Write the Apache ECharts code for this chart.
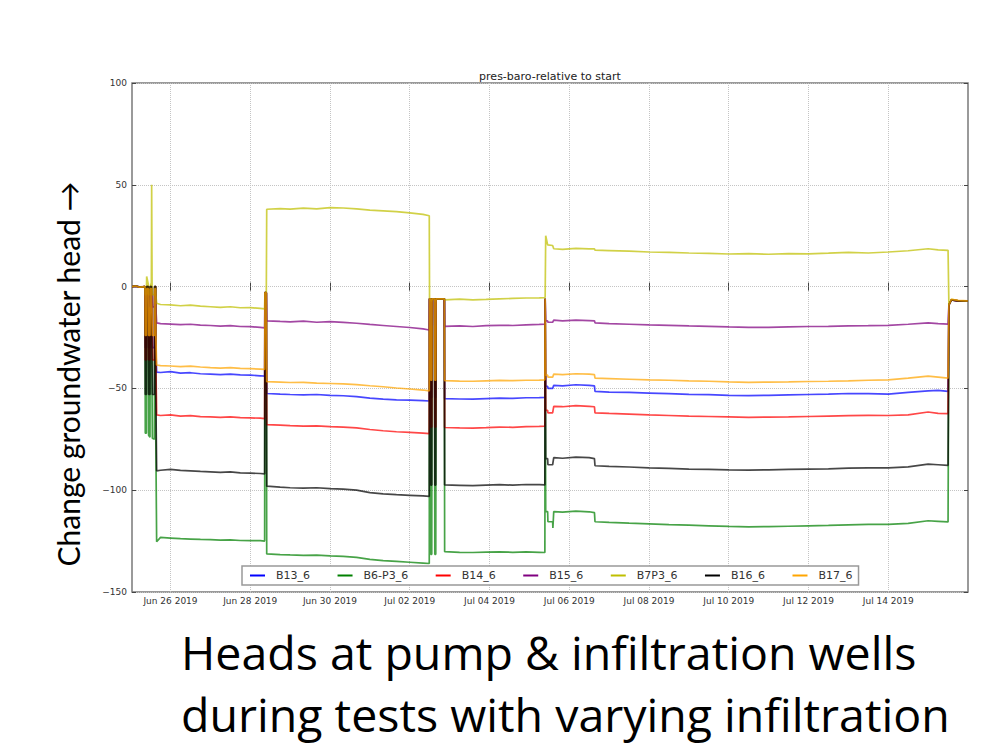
<!DOCTYPE html>
<html>
<head>
<meta charset="utf-8">
<script src="https://cdn.jsdelivr.net/npm/echarts@6/dist/echarts.min.js"></script>
<style>
html,body{margin:0;padding:0;background:#fff;}
#chart{width:998px;height:747px;}
</style>
</head>
<body>
<div id="chart"></div>
<script>
// ---- shared time stamps (local time) ----
const times = [
'2019-06-25 00:50','2019-06-25 03:00','2019-06-25 05:30','2019-06-25 08:40',
'2019-06-25 08:50','2019-06-25 09:30','2019-06-25 09:40','2019-06-25 10:40',
'2019-06-25 10:50','2019-06-25 11:40','2019-06-25 11:50','2019-06-25 12:30',
'2019-06-25 12:40','2019-06-25 12:55','2019-06-25 13:05','2019-06-25 14:20',
'2019-06-25 14:30','2019-06-25 15:00','2019-06-25 15:10','2019-06-25 15:40',
'2019-06-25 18:00','2019-06-26 00:00','2019-06-26 06:00','2019-06-26 12:00',
'2019-06-26 18:00','2019-06-27 00:00','2019-06-27 06:00','2019-06-27 12:00',
'2019-06-27 18:00','2019-06-28 00:00','2019-06-28 06:00','2019-06-28 08:40',
'2019-06-28 08:50','2019-06-28 09:40','2019-06-28 09:55','2019-06-28 18:00',
'2019-06-29 00:00','2019-06-29 08:00','2019-06-29 16:00','2019-06-30 00:00',
'2019-06-30 08:00','2019-06-30 16:00','2019-07-01 00:00','2019-07-01 08:00',
'2019-07-01 16:00','2019-07-02 00:00','2019-07-02 08:00','2019-07-02 11:45',
'2019-07-02 11:55','2019-07-02 12:30','2019-07-02 12:40','2019-07-02 13:15',
'2019-07-02 13:25','2019-07-02 14:55','2019-07-02 15:05','2019-07-02 15:40',
'2019-07-02 15:50','2019-07-02 20:50','2019-07-02 21:00','2019-07-03 06:00',
'2019-07-03 14:00','2019-07-03 22:00','2019-07-04 06:00','2019-07-04 14:00',
'2019-07-04 22:00','2019-07-05 06:00','2019-07-05 09:20','2019-07-05 09:30',
'2019-07-05 09:50','2019-07-05 11:00','2019-07-05 11:10','2019-07-05 14:00',
'2019-07-05 14:10','2019-07-05 14:40','2019-07-05 20:00','2019-07-06 04:00',
'2019-07-06 12:00','2019-07-06 15:10','2019-07-06 15:30','2019-07-07 00:00',
'2019-07-07 12:00','2019-07-08 00:00','2019-07-08 12:00','2019-07-09 00:00',
'2019-07-09 12:00','2019-07-10 00:00','2019-07-10 12:00','2019-07-11 00:00',
'2019-07-11 12:00','2019-07-12 00:00','2019-07-12 12:00','2019-07-13 00:00',
'2019-07-13 12:00','2019-07-14 00:00','2019-07-14 12:00','2019-07-15 00:00',
'2019-07-15 06:00','2019-07-15 12:00','2019-07-15 12:30','2019-07-15 14:00',
'2019-07-15 18:00','2019-07-15 23:50'
];

const seriesNames = ['B13_6','B6-P3_6','B14_6','B15_6','B7P3_6','B16_6','B17_6'];

const B13_6 = [
0,0.2,-0.2,0, -30,-30,0,0, -30,-30,0,0, 0,0,-30,-30, 0,0,-30,-42,
-42.2,-41.8,-42.5,-42.3, -42.8,-43,-43.2,-43, -43.4,-43.5,-43.8,-44,
-3,-3,-52.5,-52.8, -53,-53.2,-53,-53.4, -53.6,-54,-54.8,-55.3, -55.6,-55.8,-56,-56.2,
-6,-6,-54.5,-54.5, -6,-6,-54.5,-54.5, -6,-6,-55,-55.2, -55.3,-55,-54.8,-54.9,
-54.6,-54.5,-54.4,-6, -49,-49,-50,-50, -50,-48.5,-48.8,-48.2, -48.5,-48.8,-51.5,-51.8,
-52,-52.3,-52.6,-52.9, -53.1,-53.4,-53.5,-53.4, -53.2,-53,-52.8,-52.5,
-52.6,-52.8,-52,-51.2, -51,-51.5,-9,-6.5, -7,-7
];
const B6_P3_6 = [
0,0.2,-0.2,0, -72,-72,0,0, -73,-74,0,0, 0,0,-74.5,-75, 0,0,-75,-125.3,
-123.2,-123.5,-123.8,-124, -124.2,-124.3,-124.5,-124.4, -124.7,-124.8,-124.8,-125,
-3,-3,-131.3,-131.6, -131.8,-132,-131.9,-132.3, -132.5,-133,-134,-134.6, -135,-135.4,-135.8,-136,
-6,-6,-131.5,-131.5, -6,-6,-131.5,-131.5, -6,-6,-130.2,-130.5, -130.6,-130.4,-130.3,-130.5,
-130.3,-130.5,-130.6,-6, -110.5,-110.5,-115.5,-115.5, -118.6,-110.5,-110.8,-110.3, -110.6,-111,-115.5,-115.8,
-116.2,-116.5,-116.9,-117.2, -117.5,-117.8,-118,-117.9, -117.7,-117.5,-117.3,-117,
-116.8,-116.8,-116.3,-115, -115.3,-115.6,-9,-6.5, -7,-7
];
const B14_6 = [
0,0.2,-0.2,0, -36,-36,0,0, -36,-36,0,0, 0,0,-36,-36, 0,0,-36,-63,
-63.3,-63,-63.6,-63.4, -63.9,-64,-64.2,-64, -64.4,-64.5,-64.6,-64.8,
-3,-3,-67.8,-68, -68.3,-68.5,-68.4,-68.8, -69,-69.4,-70.2,-70.8, -71.3,-71.6,-72,-72.2,
-6,-6,-69,-69, -6,-6,-69,-69, -6,-6,-69.2,-69.4, -69.5,-69.3,-69,-69.1,
-68.8,-68.7,-68.6,-6, -60.8,-60.8,-62,-62, -62,-58.8,-59,-58.5, -58.8,-59,-62,-62.3,
-62.6,-63,-63.3,-63.6, -63.8,-64,-64.2,-64.1, -64,-63.8,-63.6,-63.4,
-63.2,-63.3,-63,-61.6, -62.3,-62.4,-9,-6.5, -7,-7
];
const B15_6 = [
0,0.2,-0.1,0, -10,-10,0,0, -10,-10,0,0, 0,0,-10,-10, 0,0,-10,-17.8,
-18.2,-18.4,-18.7,-18.5, -18.9,-19.1,-19.4,-19.2, -19.6,-19.7,-20,-20.3,
-3,-3,-16.8,-17.1, -17.3,-17,-17.5,-17.2, -17.6,-18,-18.6,-19.1, -19.6,-20.1,-20.8,-21.3,
-6,-6,-19,-19, -6,-6,-19,-19, -6,-6,-19.5,-19.3, -19.6,-19.2,-19,-19.1,
-18.8,-18.6,-18.5,-6, -16.8,-16.8,-17.5,-17.5, -17.5,-16.5,-16.8,-16.5, -16.7,-16.8,-17.8,-18.2,
-18.5,-18.8,-19,-19.3, -19.5,-19.8,-20,-20, -19.8,-19.6,-19.5,-19.3,
-19.2,-19,-18.5,-17.8, -18.2,-18.4,-9,-6.5, -7,-7
];
const B7P3_6 = [
0,0.3,-0.2,0, -4,-4,5,1, -4,-4,0,2, 50,0,-4,-4, 0,0,-4,-8.2,
-8.8,-9,-9.4,-9.1, -9.6,-9.9,-10.2,-9.9, -10.4,-10.3,-10.7,-10.9,
-3,-3,38,38.3, 38.1,38.5,38.2,38.8, 38.6,38.2,37.6,37.2, 36.8,36.2,35.5,34.8,
-6,-6,-7,-7, -6,-6,-7,-7, -6,-6,-6.5,-6.2, -6.5,-6.3,-6,-5.8,
-5.6,-5.5,-5.4,-5, 25,20.5,20.5,20.2, 20.2,18.6,18.3,18.8, 18.5,18.6,17.9,17.7,
17.4,17,16.8,16.5, 16.3,16,16.2,15.9, 16.2,16.1,16.4,16.8,
16.5,17,17.6,18.6, 18,17.8,-9,-6.3, -6.9,-7.1
];
const B16_6 = [
0,0.2,-0.2,0, -53,-53,0,0, -53,-53,0,0, 0,0,-53,-53, 0,0,-53,-90.5,
-90.2,-89.8,-90.3,-90.5, -90.8,-91,-91.2,-91, -91.5,-91.6,-91.8,-92,
-3,-3,-98,-98.5, -98.8,-99,-98.8,-99.2, -99.5,-100,-101.2,-101.8, -102.2,-102.5,-102.8,-103,
-6,-6,-97.5,-97.5, -6,-6,-97.5,-97.5, -6,-6,-97.4,-97.6, -97.8,-97.5,-97.3,-97.5,
-97.2,-97.3,-97.4,-6, -84.5,-84.5,-87.5,-87.5, -87.5,-84,-84.3,-83.8, -84,-84.5,-88,-88.3,
-88.6,-89,-89.3,-89.6, -89.8,-90,-90.1,-90, -89.8,-89.6,-89.5,-89.2,
-89,-89,-88.5,-87.2, -87.5,-87.8,-9,-6.5, -7,-7
];
const B17_6 = [
0,0.3,-0.3,0, -24,-24,-1,-1, -24,-24,-1,-1, -1,-1,-24,-24, -1,-1,-24,-38.5,
-38.8,-39,-39.3,-39.1, -39.5,-39.8,-40,-39.8, -40.2,-40.3,-40.5,-40.7,
-3,-3,-46.7,-46.9, -47.1,-47,-47.4,-47.6, -47.8,-48.1,-48.7,-49.2, -49.8,-50.3,-50.8,-51.2,
-6,-6,-46,-46, -6,-6,-46,-46, -6,-6,-46.2,-46.4, -46.5,-46.3,-46.1,-46.2,
-46,-45.9,-45.8,-6, -43.5,-43.5,-44.5,-44.5, -44.5,-43,-43.2,-42.8, -43,-43.2,-45,-45.2,
-45.5,-45.8,-46,-46.3, -46.5,-46.8,-47,-46.9, -46.8,-46.6,-46.5,-46.3,
-46,-45.8,-45,-44, -44.5,-45,-9,-6.3, -6.8,-7
];

const xTickDates = ['2019-06-26','2019-06-28','2019-06-30','2019-07-02','2019-07-04',
  '2019-07-06','2019-07-08','2019-07-10','2019-07-12','2019-07-14'];
const xTickLabels = ['Jun 26 2019','Jun 28 2019','Jun 30 2019','Jul 02 2019','Jul 04 2019',
  'Jul 06 2019','Jul 08 2019','Jul 10 2019','Jul 12 2019','Jul 14 2019'];
const xRange = ['2019-06-25 00:50','2019-07-16 00:00'];

const chartTitle = 'pres-baro-relative to start';
const yAxisLabel = 'Change groundwater head \u2192';
const captionLines = ['Heads at pump & infiltration wells','during tests with varying infiltration'];

const colors = ['#0000ff','#008000','#ff0000','#800080','#bfbf00','#000000','#ffa500'];
const valueSets = [B13_6,B6_P3_6,B14_6,B15_6,B7P3_6,B16_6,B17_6];

const P = s => +echarts.time.parse(s);
const tickVals = xTickDates.map(d => P(d + ' 00:00'));
const xLabel = v => {
  const n = Number(v);
  let best = -1, bd = Infinity;
  tickVals.forEach((t, i) => { const d = Math.abs(t - n); if (d < bd) { bd = d; best = i; } });
  return (best >= 0 && bd < 3600000) ? xTickLabels[best] : '';
};
const yLabel = v => String(v).replace('-', '\u2212');

const chart = echarts.init(document.getElementById('chart'), null, {renderer: 'svg'});

const tickFont = {fontFamily: 'DejaVu Sans', fontSize: 9, color: '#333'};
const mkX = (pos, showLabel) => ({
  type: 'value', position: pos, gridIndex: 0,
  min: P(xRange[0]), max: P(xRange[1]),
  axisLine: {show: false},
  axisTick: {show: true, inside: true, length: 4, customValues: tickVals, lineStyle: {color: '#444'}},
  axisLabel: Object.assign({show: showLabel, customValues: tickVals, formatter: xLabel, margin: 4, hideOverlap: false}, tickFont),
  splitLine: {show: showLabel, lineStyle: {type: 'dotted', color: '#c4c4c4', width: 1}}
});
const mkY = (pos, showLabel) => ({
  type: 'value', position: pos, min: -150, max: 100, interval: 50,
  axisLine: {show: false},
  axisTick: {show: true, inside: true, length: 4, lineStyle: {color: '#444'}},
  axisLabel: Object.assign({show: showLabel, formatter: yLabel, margin: 5}, tickFont),
  splitLine: {show: showLabel, lineStyle: {type: 'dotted', color: '#c4c4c4', width: 1}}
});

const option = {
  animation: false,
  backgroundColor: '#fff',
  grid: {left: 132, right: 30, top: 83, bottom: 155, show: true, borderColor: '#7a7a7a', borderWidth: 1.5, backgroundColor: 'transparent'},
  xAxis: [mkX('bottom', true), mkX('top', false)],
  yAxis: [mkY('left', true), mkY('right', false)],
  legend: {
    data: seriesNames, left: 242, top: 566, orient: 'horizontal',
    itemWidth: 15, itemHeight: 2, itemGap: 27.5, icon: 'rect',
    padding: [4, 6, 4, 8],
    borderColor: '#999', borderWidth: 1.5, backgroundColor: '#fff',
    textStyle: {fontFamily: 'DejaVu Sans', fontSize: 11, color: '#333', padding: [0, 0, 0, 6]}
  },
  graphic: [
    {type: 'text', x: 550, y: 76, style: {text: chartTitle, font: '11px "DejaVu Sans"', fill: '#222', textAlign: 'center', textVerticalAlign: 'middle'}},
    {type: 'text', x: 68, y: 374, rotation: Math.PI / 2, style: {text: yAxisLabel, font: '30px Lato', fill: '#000', textAlign: 'center', textVerticalAlign: 'middle'}},
    {type: 'text', x: 181, y: 652, style: {text: captionLines[0], font: '46.5px "Open Sans"', fill: '#000', textAlign: 'left', textVerticalAlign: 'middle'}},
    {type: 'text', x: 181, y: 714, style: {text: captionLines[1], font: '46.5px "Open Sans"', fill: '#000', textAlign: 'left', textVerticalAlign: 'middle'}}
  ],
  series: seriesNames.map((name, k) => ({
    name: name, type: 'line', xAxisIndex: 0, yAxisIndex: 0,
    showSymbol: false, symbol: 'none',
    color: colors[k],
    lineStyle: {width: 1.7, opacity: 0.72, color: colors[k]},
    emphasis: {disabled: true},
    data: times.map((t, i) => [P(t), valueSets[k][i]])
  }))
};
chart.setOption(option);
</script>
</body>
</html>
